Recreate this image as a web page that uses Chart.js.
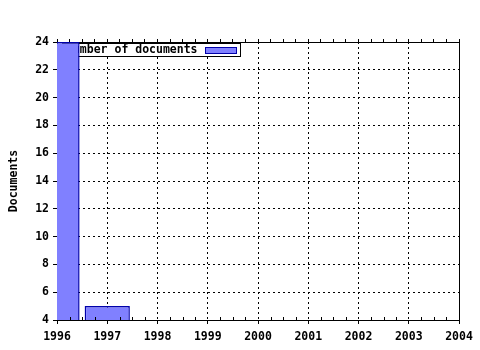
<!DOCTYPE html>
<html>
<head>
<meta charset="utf-8">
<script src="https://cdn.jsdelivr.net/npm/chart.js@4/dist/chart.umd.min.js"></script>
<style>
    html, body { margin: 0; padding: 0; background: #fff; }
    #wrap { width: 480px; height: 350px; }
</style>
</head>
<body>
<div id="wrap"><canvas id="docsChart" width="480" height="350"></canvas></div>
<script>
// Chart data
const years = [1996, 1997];
const documents = [24, 5];
const seriesLabel = 'Number of documents';
const yearTicks = [1996, 1997, 1998, 1999, 2000, 2001, 2002, 2003, 2004];
const docTicks = [4, 6, 8, 10, 12, 14, 16, 18, 20, 22, 24];

const monoFont = { family: 'DejaVu Sans Mono', size: 11.5, weight: 'bold' };
const barFill = '#8080ff';
const barEdge = '#0000aa';

// Legend sits under the bars, so draw it before the datasets
const underLegend = {
    id: 'underLegend',
    beforeDatasetsDraw(chart) {
        const { ctx, chartArea } = chart;
        const left = chartArea.left + 5;
        const top = chartArea.top + 1;
        const w = 179, h = 14;
        ctx.save();
        ctx.fillStyle = '#fff';
        ctx.fillRect(left, top, w, h);
        ctx.strokeStyle = '#000';
        ctx.lineWidth = 1;
        ctx.strokeRect(left + 0.5, top + 0.5, w - 1, h - 1);
        ctx.font = 'bold 11.5px "DejaVu Sans Mono"';
        ctx.fillStyle = '#000';
        ctx.textBaseline = 'middle';
        ctx.fillText(chart.data.datasets[0].label, left + 4, top + h / 2 + 0.5);
        ctx.fillStyle = barFill;
        ctx.fillRect(left + 143, top + 4, 32, 6);
        ctx.strokeStyle = barEdge;
        ctx.strokeRect(left + 143.5, top + 4.5, 31, 6);
        ctx.restore();
    }
};

// Small minor ticks on the bottom (inside) axis
const minorTicks = {
    id: 'minorTicks',
    afterDraw(chart) {
        const { ctx, chartArea } = chart;
        const x = chart.scales.x;
        ctx.save();
        ctx.strokeStyle = '#000';
        ctx.lineWidth = 1;
        ctx.beginPath();
        for (let i = 0; i < yearTicks.length - 1; i++) {
            for (let q = 1; q < 4; q++) {
                const px = Math.round(x.getPixelForValue(yearTicks[i] + q / 4)) + 0.5;
                ctx.moveTo(px, chartArea.bottom);
                ctx.lineTo(px, chartArea.bottom - 3);
            }
        }
        ctx.stroke();
        ctx.restore();
    }
};

const ctx = document.getElementById('docsChart').getContext('2d');
new Chart(ctx, {
    type: 'bar',
    data: {
        datasets: [{
            label: seriesLabel,
            data: years.map((y, i) => ({ x: y, y: documents[i] })),
            backgroundColor: barFill,
            borderColor: barEdge,
            borderWidth: 1.5,
            borderSkipped: 'start',
            barPercentage: 0.9,
            categoryPercentage: 1.0
        }]
    },
    options: {
        responsive: false,
        animation: false,
        layout: { padding: { top: 42, right: 21, left: 0, bottom: 0 } },
        plugins: {
            legend: { display: false },
            tooltip: { enabled: false }
        },
        scales: {
            x: {
                type: 'linear',
                position: 'bottom',
                offset: false,
                min: yearTicks[0],
                max: yearTicks[yearTicks.length - 1],
                afterBuildTicks: (scale) => { scale.ticks = yearTicks.map(v => ({ value: v })); },
                afterFit: (scale) => { scale.height = 30; },
                ticks: {
                    font: monoFont,
                    color: '#000',
                    padding: 6,
                    maxRotation: 0,
                    autoSkip: false,
                    callback: (v) => String(v)
                },
                grid: { offset: false, color: '#000', lineWidth: 1, tickLength: 4, tickColor: '#000' },
                border: { color: '#000', width: 1, dash: [2, 3] }
            },
            xTop: {
                type: 'linear',
                position: 'top',
                offset: false,
                min: yearTicks[0],
                max: yearTicks[yearTicks.length - 1],
                afterFit: (scale) => { scale.height = 0; },
                ticks: { display: false, stepSize: 0.25 },
                grid: { offset: false, drawOnChartArea: false, tickLength: 3, color: '#000' },
                border: { color: '#000', width: 1 }
            },
            y: {
                min: docTicks[0],
                max: docTicks[docTicks.length - 1],
                afterBuildTicks: (scale) => { scale.ticks = docTicks.map(v => ({ value: v })); },
                afterFit: (scale) => { scale.width = 57; },
                ticks: { font: monoFont, color: '#000', padding: 4 },
                grid: { color: '#000', lineWidth: 1, tickLength: 4, tickColor: '#000' },
                border: { color: '#000', width: 1, dash: [2, 3] },
                title: {
                    display: true,
                    text: 'Documents',
                    font: monoFont,
                    color: '#000',
                    padding: { top: 7, bottom: 0 }
                }
            },
            yRight: {
                position: 'right',
                min: docTicks[0],
                max: docTicks[docTicks.length - 1],
                afterFit: (scale) => { scale.width = 0; },
                ticks: { display: false },
                grid: { display: false },
                border: { color: '#000', width: 1 }
            }
        }
    },
    plugins: [underLegend, minorTicks]
});
</script>
</body>
</html>
